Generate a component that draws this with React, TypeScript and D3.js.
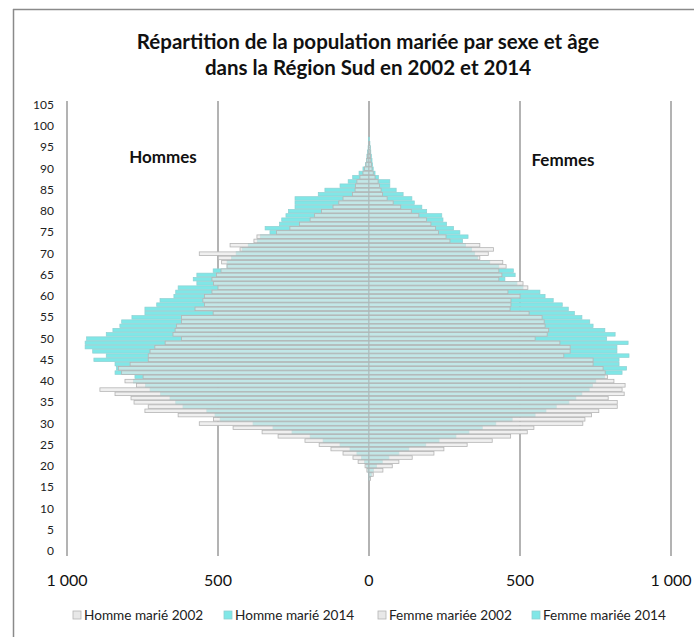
import React from "react";
import * as d3 from "d3";

const title1 = "Répartition de la population mariée par sexe et âge";
const title2 = "dans la Région Sud en 2002 et 2014";

// ages 17..97
const ages = [17,18,19,20,21,22,23,24,25,26,27,28,29,30,31,32,33,34,35,36,37,38,39,40,41,42,43,44,45,46,47,48,49,50,51,52,53,54,55,56,57,58,59,60,61,62,63,64,65,66,67,68,69,70,71,72,73,74,75,76,77,78,79,80,81,82,83,84,85,86,87,88,89,90,91,92,93,94,95,96,97];

const hommes2002 = [0,2,7,13,36,53,86,126,165,212,301,354,450,562,515,632,742,731,778,788,841,891,770,808,748,819,830,791,731,731,725,709,675,621,649,642,637,621,621,516,576,545,550,545,520,500,515,520,505,490,470,488,499,562,427,460,381,371,306,262,230,195,180,157,119,100,86,55,46,45,40,30,20,15,10,7,5,3,2,1,0];

const hommes2014 = [0,2,4,8,15,25,40,63,96,152,195,255,318,384,493,510,537,616,640,659,690,725,740,780,775,841,836,841,911,870,915,940,940,935,870,848,825,819,785,742,742,703,692,646,640,632,570,582,570,516,470,470,455,440,420,400,370,360,328,344,296,289,275,267,245,245,245,168,146,96,69,54,33,20,12,8,7,5,3,2,1];

const femmes2002 = [5,14,46,77,99,143,215,248,325,408,469,524,546,708,715,737,761,822,822,792,845,838,848,811,790,782,775,742,742,645,666,666,632,550,590,595,583,580,573,530,467,470,470,500,460,526,510,430,440,430,454,443,367,395,412,367,268,255,230,220,205,190,165,140,105,80,60,45,40,35,30,20,14,10,8,6,5,4,3,2,0];

const femmes2014 = [2,8,15,25,44,66,99,132,188,232,288,331,375,420,474,550,586,620,662,685,705,729,740,751,780,838,853,828,828,861,821,821,858,787,815,781,742,731,705,680,660,640,610,583,566,510,490,450,484,478,430,400,360,350,340,320,310,328,301,280,257,245,241,191,175,150,142,113,90,69,69,31,20,14,12,10,8,6,5,3,2];

const yTicks = [0,5,10,15,20,25,30,35,40,45,50,55,60,65,70,75,80,85,90,95,100,105];
const xTicks = [-1000,-500,0,500,1000];
const legendLabels = ["Homme marié 2002","Homme marié 2014","Femme mariée 2002","Femme mariée 2014"];

const FONT = "Lato, 'Open Sans', sans-serif";
const CYAN = "#80e7e7";
const CYAN_STROKE = "#8fd0d2";
const GRAY_FILL = "rgba(232,232,232,0.64)";
const GRAY_OPAQUE = "#e8e8e8";
const GRAY_STROKE = "#b4b4b4";

export default function App() {
  const W = 694, H = 637;
  const x = d3.scaleLinear().domain([-1000, 1000]).range([67, 671]);
  const y = d3.scaleLinear().domain([0, 105]).range([551, 105]);
  const band = y(0) - y(1);
  const bh = band - 0.7;
  const loc = d3.formatLocale({ decimal: ",", thousands: " ", grouping: [3], currency: ["", "€"] });
  const fmt = loc.format(",");

  const bars = (vals2002: number[], vals2014: number[], sign: number, key: string) => {
    const out: any[] = [];
    ages.forEach((a, i) => {
      const v02 = vals2002[i], v14 = vals2014[i];
      const yc = y(a) - bh / 2;
      const m = Math.max(v02, v14);
      if (m <= 0) return;
      const x0 = x(0);
      const xm = x(sign * m);
      out.push(<rect key={key + "w" + a} x={Math.min(x0, xm)} y={yc} width={Math.abs(xm - x0)} height={bh} fill="#fff" />);
    });
    ages.forEach((a, i) => {
      const v14 = vals2014[i];
      if (v14 <= 0) return;
      const x0 = x(0), x1 = x(sign * v14);
      out.push(<rect key={key + "c" + a} x={Math.min(x0, x1)} y={y(a) - bh / 2} width={Math.abs(x1 - x0)} height={bh} fill={CYAN} stroke={CYAN_STROKE} strokeWidth={0.7} />);
    });
    ages.forEach((a, i) => {
      const v02 = vals2002[i];
      if (v02 <= 0) return;
      const x0 = x(0), x1 = x(sign * v02);
      out.push(<rect key={key + "g" + a} x={Math.min(x0, x1)} y={y(a) - bh / 2} width={Math.abs(x1 - x0)} height={bh} fill={GRAY_FILL} stroke={GRAY_STROKE} strokeWidth={0.8} />);
    });
    return out;
  };

  const legendX = [73, 224, 378, 532];
  const legendFill = [GRAY_OPAQUE, CYAN, GRAY_OPAQUE, CYAN];
  const legendStroke = [GRAY_STROKE, CYAN_STROKE, GRAY_STROKE, CYAN_STROKE];

  return (
    <svg width={W} height={H} style={{ position: "absolute", left: 0, top: 0, background: "#fff" }} fontFamily={FONT}>
      <rect x={0} y={0} width={W} height={H} fill="#fff" />
      <line x1={13.5} y1={9} x2={13.5} y2={H} stroke="#8a8a8a" strokeWidth={1.5} />
      <line x1={13} y1={9.5} x2={W} y2={9.5} stroke="#8a8a8a" strokeWidth={1.5} />

      <text x={368} y={49} textAnchor="middle" fontSize={20.5} fontWeight="bold" fill="#111">{title1}</text>
      <text x={368} y={75} textAnchor="middle" fontSize={20.5} fontWeight="bold" fill="#111">{title2}</text>

      {xTicks.map((t) => (
        <line key={"g" + t} x1={x(t)} x2={x(t)} y1={101} y2={556} stroke="#9a9a9a" strokeWidth={1.5} />
      ))}

      {bars(hommes2002, hommes2014, -1, "h")}
      {bars(femmes2002, femmes2014, 1, "f")}

      {yTicks.map((t) => (
        <text key={"y" + t} x={54} y={y(t) + 4} textAnchor="end" fontSize={12} fill="#222">{t}</text>
      ))}
      {xTicks.map((t) => (
        <text key={"x" + t} x={x(t)} y={586} textAnchor="middle" fontSize={16} fill="#111">{fmt(Math.abs(t))}</text>
      ))}

      <text x={163} y={163} textAnchor="middle" fontSize={17} fontWeight="bold" fill="#111">Hommes</text>
      <text x={563} y={166} textAnchor="middle" fontSize={17} fontWeight="bold" fill="#111">Femmes</text>

      {legendLabels.map((l, i) => (
        <g key={l}>
          <rect x={legendX[i]} y={611} width={8} height={8} fill={legendFill[i]} stroke={legendStroke[i]} strokeWidth={0.8} />
          <text x={legendX[i] + 11} y={619.5} fontSize={13.6} fill="#222">{l}</text>
        </g>
      ))}
    </svg>
  );
}
